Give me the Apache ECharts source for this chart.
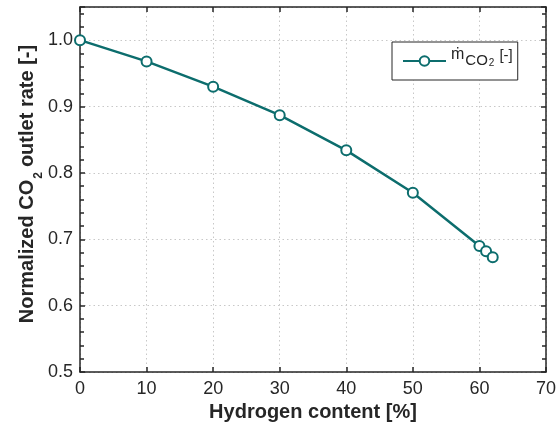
<!DOCTYPE html>
<html>
<head>
<meta charset="utf-8">
<script src="https://cdn.jsdelivr.net/npm/echarts@6/dist/echarts.min.js"></script>
<style>html,body{margin:0;padding:0;background:#fff;}#c{width:559px;height:432px;}</style>
</head>
<body>
<div id="c"></div>
<script>
const hydrogen = [0, 10, 20, 30, 40, 50, 60, 61, 62];
const co2Rate = [1.0, 0.968, 0.930, 0.887, 0.834, 0.770, 0.690, 0.682, 0.673];
const xTicks = { min: 0, max: 70, interval: 10 };
const yTicks = { min: 0.5, max: 1.05, interval: 0.1 };

const teal = '#0c6d6d';
const dark = '#262626';
const font = 'Liberation Sans, Arial, sans-serif';

const chart = echarts.init(document.getElementById('c'), null, { renderer: 'canvas' });

const baseAxisLine = { show: true, onZero: false, lineStyle: { color: dark, width: 1.5 } };
const tickStyle = { show: true, inside: true, length: 5, lineStyle: { color: dark, width: 1.5 } };
const minorTickStyle = { show: true, splitNumber: 5, length: 4, lineStyle: { color: dark, width: 1.5 } };

chart.setOption({
  animation: false,
  backgroundColor: '#fff',
  grid: { left: 80, right: 11, top: 7, bottom: 60, containLabel: false },
  legend: {
    left: 392, top: 42,
    orient: 'vertical',
    padding: [4, 5, 4, 10],
    borderColor: dark, borderWidth: 1, borderRadius: 0,
    backgroundColor: '#fff',
    itemWidth: 43, itemHeight: 12, itemGap: 4,
    data: ['co2'],
    formatter: () => '{m|ṁ}{co|CO}{two|2}{br|[-]}',
    textStyle: {
      fontFamily: font, fontSize: 15, color: dark,
      rich: {
        m: { fontSize: 16, lineHeight: 16, fontFamily: font, color: dark, padding: [1, 0, 13, 0] },
        co: { fontSize: 15, lineHeight: 15, fontFamily: font, color: dark, padding: [7, 0, 8, 1] },
        two: { fontSize: 10, lineHeight: 10, fontFamily: font, color: dark, padding: [12, 0, 8, 1] },
        br: { fontSize: 15, lineHeight: 15, fontFamily: font, color: dark, padding: [2, 0, 13, 5] }
      }
    }
  },
  xAxis: [{
    type: 'value', position: 'bottom',
    min: xTicks.min, max: xTicks.max, interval: xTicks.interval,
    name: 'Hydrogen content [%]', nameLocation: 'middle', nameGap: 28,
    nameTextStyle: { fontFamily: font, fontSize: 20, lineHeight: 20, fontWeight: 'bold', color: dark },
    axisLine: baseAxisLine, axisTick: tickStyle,
    axisLabel: { fontFamily: font, fontSize: 18, color: dark, margin: 8 },
    splitLine: { show: true, lineStyle: { type: [1.5, 3], color: '#c8c8c8', width: 1 } }
  }, {
    type: 'value', position: 'top',
    min: xTicks.min, max: xTicks.max, interval: xTicks.interval,
    axisLine: baseAxisLine, axisTick: tickStyle,
    axisLabel: { show: false }, splitLine: { show: false }
  }],
  yAxis: [{
    type: 'value', position: 'left',
    min: yTicks.min, max: yTicks.max, interval: yTicks.interval,
    name: '{a0|Normalized CO}{sub|2}{a|outlet rate [-]}', nameLocation: 'middle', nameGap: 39, nameRotate: 90,
    nameMoveOverlap: false,
    nameTextStyle: {
      fontFamily: font, fontSize: 20, fontWeight: 'bold', color: dark,
      rich: {
        a0: { fontFamily: font, fontSize: 20, lineHeight: 20, fontWeight: 'bold', color: dark, padding: [0, 0, 8, 11] },
        a: { fontFamily: font, fontSize: 20, lineHeight: 20, fontWeight: 'bold', color: dark, padding: [0, 0, 8, 5] },
        sub: { fontFamily: font, fontSize: 12, lineHeight: 12, fontWeight: 'bold', color: dark, padding: [16, 0, 0, 1] }
      }
    },
    axisLine: baseAxisLine, axisTick: tickStyle,
    minorTick: minorTickStyle,
    axisLabel: { fontFamily: font, fontSize: 18, color: dark, margin: 7, formatter: v => v.toFixed(1),
      showMaxLabel: false },
    splitLine: { show: true, lineStyle: { type: [1.5, 3], color: '#c8c8c8', width: 1 } }
  }, {
    type: 'value', position: 'right',
    min: yTicks.min, max: yTicks.max, interval: yTicks.interval,
    axisLine: baseAxisLine, axisTick: tickStyle,
    minorTick: minorTickStyle,
    axisLabel: { show: false }, splitLine: { show: false }
  }],
  series: [{
    name: 'co2', type: 'line',
    data: hydrogen.map((h, i) => [h, co2Rate[i]]),
    symbol: 'emptyCircle', symbolSize: 10,
    lineStyle: { color: teal, width: 2.5 },
    itemStyle: { color: teal, borderColor: teal, borderWidth: 2.5 },
    emphasis: { disabled: true }
  }]
});
</script>
</body>
</html>
